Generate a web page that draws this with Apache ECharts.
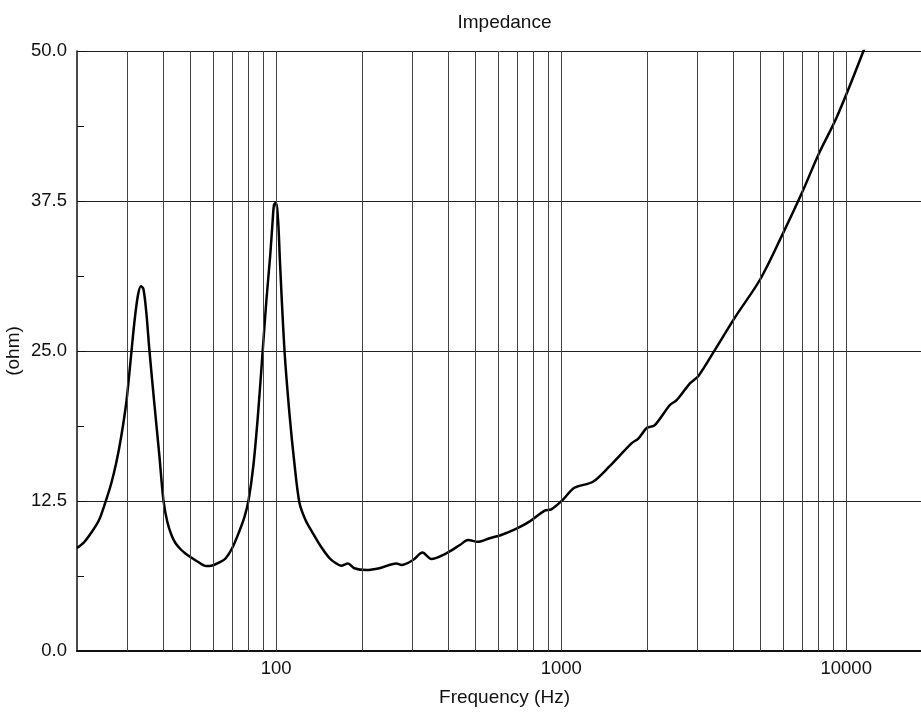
<!DOCTYPE html>
<html>
<head>
<meta charset="utf-8">
<script src="https://cdn.jsdelivr.net/npm/echarts@6/dist/echarts.min.js"></script>
<style>
html,body{margin:0;padding:0;background:#fff;}
#chart{width:921px;height:713px;}
</style>
</head>
<body>
<div id="chart"></div>
<script>
// Frequency (Hz) and impedance (ohm)
const freqHz = [20, 21.2, 22.4, 23.9, 25.1, 26.4, 27.5, 28.6, 29.8, 30.8, 31.8, 32.7, 33.5, 34.2, 35.0, 35.9, 37.4, 38.9, 40.2, 41.5, 42.9, 44.3, 46.1, 48.0, 50.0, 52.9, 56.8, 59.7, 63.2, 66.4, 70.1, 74.3, 77.4, 80.0, 83.2, 86.3, 89.7, 92.4, 95.3, 97.1, 98.2, 99.4, 100.6, 101.9, 103.1, 106.9, 111.4, 116.0, 120.7, 126.7, 134.5, 143.1, 153.9, 161.6, 169, 178.6, 188, 207, 230, 264, 275, 302, 326, 350, 395, 441, 471, 510, 561, 616, 697, 776, 875, 923, 1013, 1112, 1292, 1479, 1764, 1864, 2000, 2125, 2407, 2541, 2829, 3026, 3463, 4072, 5000, 6000, 7000, 8000, 9270, 11494, 12500];
const impedanceOhm = [8.58, 9.08, 9.83, 10.92, 12.33, 14.0, 15.75, 17.9, 20.75, 24.08, 27.4, 29.6, 30.4, 30.17, 28.25, 25.08, 20.5, 16.3, 12.58, 10.75, 9.67, 9.0, 8.5, 8.13, 7.83, 7.46, 7.08, 7.13, 7.38, 7.71, 8.58, 10.0, 11.17, 12.58, 15.5, 19.67, 25.08, 29.25, 33.0, 35.75, 37.17, 37.33, 37.0, 35.25, 32.4, 25.08, 19.67, 15.5, 12.33, 10.92, 9.81, 8.75, 7.73, 7.33, 7.1, 7.3, 6.9, 6.75, 6.9, 7.3, 7.17, 7.58, 8.2, 7.67, 8.14, 8.83, 9.25, 9.1, 9.4, 9.67, 10.2, 10.8, 11.7, 11.8, 12.6, 13.6, 14.1, 15.4, 17.3, 17.7, 18.6, 18.8, 20.5, 20.9, 22.3, 22.9, 25.1, 27.8, 31.0, 34.8, 38.2, 41.4, 44.5, 50.0, 52.5];
const gridFreqs = [30, 40, 50, 60, 70, 80, 90, 100, 200, 300, 400, 500, 600, 700, 800, 900, 1000, 2000, 3000, 4000, 5000, 6000, 7000, 8000, 9000, 10000];
const xTickLabels = [100, 1000, 10000];
const yTicks = [0, 12.5, 25, 37.5, 50];

const chart = echarts.init(document.getElementById('chart'), null, {renderer: 'canvas'});
const FONT = 'Liberation Sans, Arial, Helvetica, sans-serif';
chart.setOption({
  animation: false,
  backgroundColor: '#fff',
  grid: {left: 77, right: -11, top: 51, bottom: 62, containLabel: false, outerBoundsMode: 'none'},
  graphic: [{
    type: 'text', x: 504.5, y: 23,
    style: {text: 'Impedance', fill: '#111', font: '19px ' + FONT, textAlign: 'center', textVerticalAlign: 'middle'}
  }],
  xAxis: {
    type: 'log', logBase: 10, min: 20, max: 20000,
    name: 'Frequency (Hz)', nameLocation: 'middle', nameGap: 37, nameMoveOverlap: false,
    nameTextStyle: {fontSize: 19, color: '#111', fontFamily: FONT},
    axisLine: {show: true, lineStyle: {color: '#111', width: 2}},
    axisTick: {show: false},
    splitLine: {show: false},
    axisLabel: {
      show: true, fontSize: 18.5, color: '#111', fontFamily: FONT, margin: 8,
      showMinLabel: false, showMaxLabel: false, hideOverlap: false,
      formatter: function (v) { return xTickLabels.indexOf(Math.round(v)) >= 0 ? String(Math.round(v)) : ''; }
    }
  },
  yAxis: {
    type: 'value', min: yTicks[0], max: yTicks[yTicks.length - 1], interval: 12.5,
    name: '(ohm)', nameLocation: 'middle', nameGap: 54, nameRotate: 90, nameMoveOverlap: false,
    nameTextStyle: {fontSize: 19, color: '#111', fontFamily: FONT},
    axisLine: {show: true, lineStyle: {color: '#111', width: 1.5}},
    axisTick: {show: true, inside: true, length: 9, lineStyle: {color: '#111', width: 1}},
    minorTick: {show: true, splitNumber: 2, length: 7, lineStyle: {color: '#111', width: 1}},
    splitLine: {show: true, lineStyle: {color: '#222', width: 1}},
    axisLabel: {fontSize: 18.5, color: '#111', fontFamily: FONT, margin: 10,
      formatter: function (v) { return v.toFixed(1); }}
  },
  series: [
    {
      type: 'line', data: [], z: 1, silent: true,
      markLine: {
        silent: true, symbol: ['none', 'none'], animation: false,
        label: {show: false},
        lineStyle: {color: '#444', width: 1, type: 'solid'},
        data: gridFreqs.map(f => ({xAxis: f}))
      }
    },
    {
      type: 'line', z: 3,
      data: freqHz.map((f, i) => [f, impedanceOhm[i]]),
      showSymbol: false, smooth: 0.3, clip: true,
      lineStyle: {color: '#000', width: 2.5}
    }
  ]
});
</script>
</body>
</html>
